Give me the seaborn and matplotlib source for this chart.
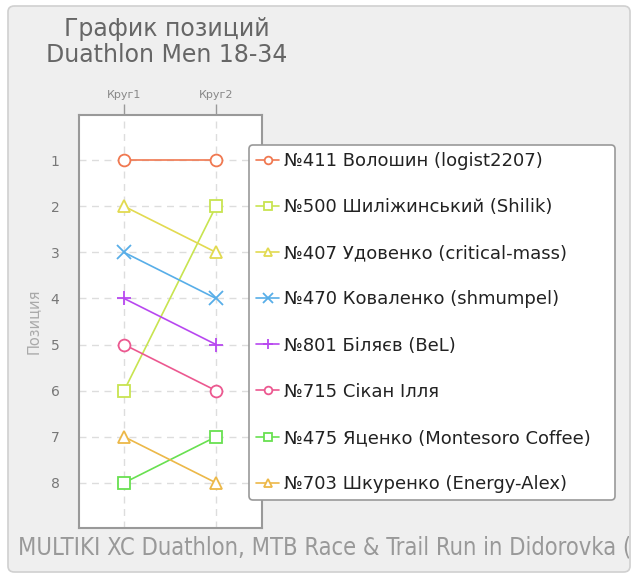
import pandas as pd
import matplotlib.pyplot as plt
import matplotlib.patches as mpatches
from matplotlib.transforms import Bbox, TransformedBbox
import seaborn as sns

# Datos del gráfico
vueltas = ['Круг1', 'Круг2']
corredores = [
    '№411 Волошин (logist2207)',
    '№500 Шиліжинський (Shilik)',
    '№407 Удовенко (critical-mass)',
    '№470 Коваленко (shmumpel)',
    '№801 Біляєв (BeL)',
    '№715 Сікан Ілля',
    '№475 Яценко (Montesoro Coffee)',
    '№703 Шкуренко (Energy-Alex)',
]
pos_411 = [1, 1]
pos_500 = [6, 2]
pos_407 = [2, 3]
pos_470 = [3, 4]
pos_801 = [4, 5]
pos_715 = [5, 6]
pos_475 = [8, 7]
pos_703 = [7, 8]
posiciones = [pos_411, pos_500, pos_407, pos_470, pos_801, pos_715, pos_475, pos_703]
colores = ['#f07850', '#c8e450', '#e2da50', '#58aee8', '#b848f0', '#ec5890', '#68e050', '#ecb848']
marcadores = ['o', 's', '^', 'x', '+', 'o', 's', '^']

# Configuración de estilo
sns.set_theme(style='white')
plt.rcParams['font.family'] = ['DejaVu Sans']

fig = plt.figure(figsize=(6.36, 5.78), dpi=100)
fig.patch.set_facecolor('white')

# panel de fondo
panel = mpatches.FancyBboxPatch((8 / 636, 6 / 578), 622 / 636, 566 / 578,
                                boxstyle='round,pad=0,rounding_size=0.01',
                                transform=fig.transFigure, facecolor='#efefef',
                                edgecolor='#d0d0d0', linewidth=1.2, zorder=-5)
fig.patches.append(panel)

ax = fig.add_axes([79 / 636, 1 - 528 / 578, 183 / 636, 413 / 578])
ax.set_facecolor('white')

for nombre, pos, c, m in zip(corredores, posiciones, colores, marcadores):
    df = pd.DataFrame({'vuelta': vueltas, 'pos': pos})
    ms = 10 if m in ('x', '+') else 8.5
    sns.lineplot(data=df, x='vuelta', y='pos', color=c, marker=m, markersize=ms,
                 markerfacecolor='white', markeredgecolor=c, markeredgewidth=1.3,
                 linewidth=1.2, label=nombre, ax=ax, zorder=3)

ax.set_xlim(-0.49, 1.5)
ax.set_ylim(8.98, 0.02)
ax.set_yticks(range(1, 9))
ax.set_xlabel('')
ax.set_ylabel('')
ax.xaxis.tick_top()
ax.tick_params(axis='x', colors='#999999', labelcolor='#888888', labelsize=8, length=8, width=1, pad=3)
ax.tick_params(axis='y', colors='#999999', labelcolor='#777777', labelsize=10, length=8, width=1, pad=6)
ax.grid(True, color='#dddddd', linestyle=(0, (5, 4)), linewidth=1)
for s in ax.spines.values():
    s.set_color('#999999')
    s.set_linewidth(1.5)

# leyenda
x0, x1 = 249 / 636, 615 / 636
y0, y1 = 1 - 503 / 578, 1 - 145 / 578
leg = ax.legend(loc='upper left', bbox_to_anchor=(x0, y0, x1 - x0, y1 - y0),
                bbox_transform=fig.transFigure, mode='expand', fontsize=13,
                frameon=True, fancybox=True, handlelength=1.3, handletextpad=0.25,
                labelspacing=1.56, borderpad=0.38, borderaxespad=0, markerscale=0.65)
leg.get_frame().set_edgecolor('#999999')
leg.get_frame().set_linewidth(1.2)
leg.get_frame().set_facecolor('white')
leg.get_frame().set_alpha(1)
for t in leg.get_texts():
    t.set_color('#222222')

# títulos
fig.text(167 / 636, 1 - 42 / 578, 'График позиций\nDuathlon Men 18-34', ha='center', va='center',
         fontsize=17, color='#666666', linespacing=1.1)
fig.text(33 / 636, 1 - 321 / 578, 'Позиция', rotation=90, ha='center', va='center',
         fontsize=10.5, color='#aaaaaa')
pie = fig.text(18 / 636, 1 - 548 / 578, 'MULTIKI XC Duathlon, MTB Race & Trail Run in Didorovka (2019)',
               ha='left', va='center', fontsize=17, fontstretch='condensed',
               family=['DejaVu Sans'], color='#999999')
# el texto se corta en el borde del panel, como en el original
pie.set_clip_on(True)
pie.set_clip_box(TransformedBbox(Bbox([[8 / 636, 0], [629 / 636, 1]]), fig.transFigure))

fig.savefig('out.png', dpi=100, facecolor=fig.get_facecolor())
